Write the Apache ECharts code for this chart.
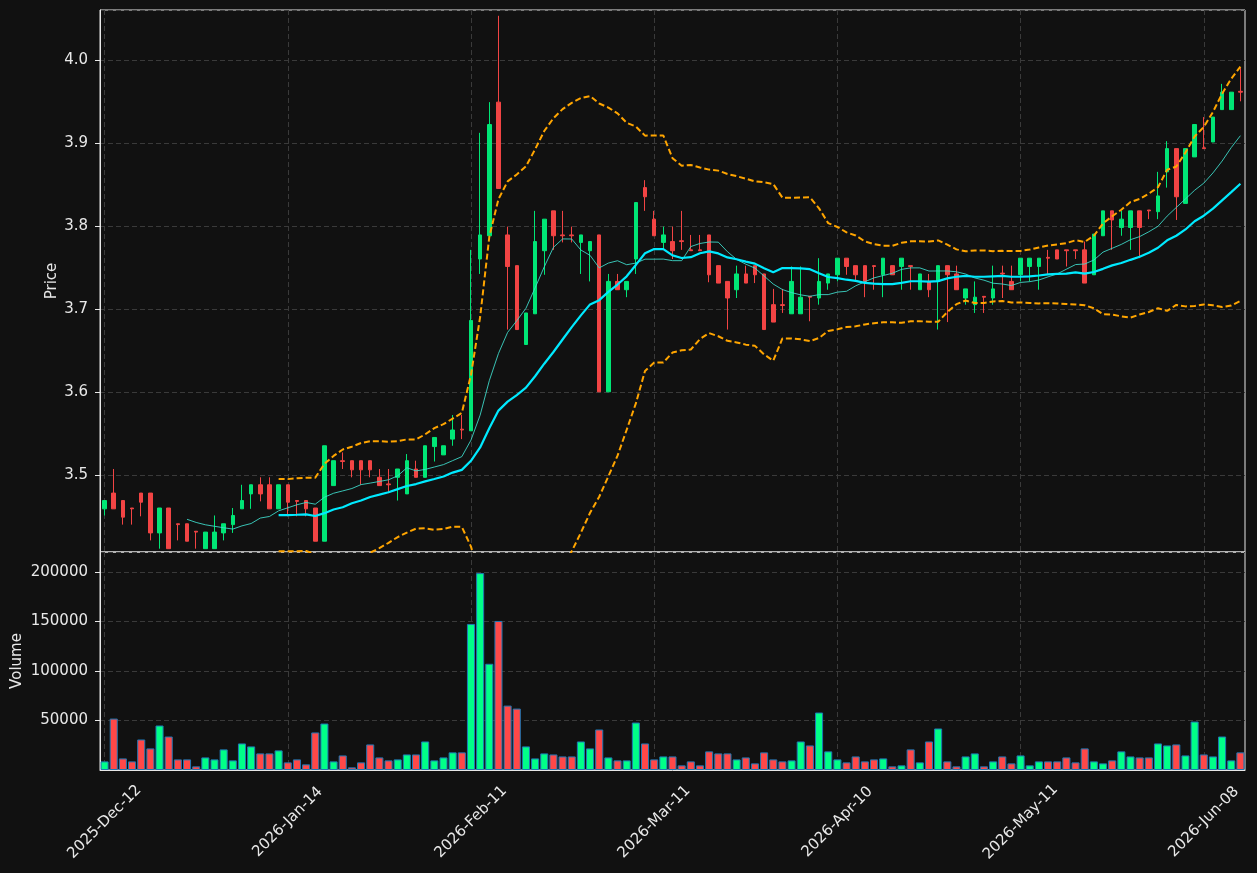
<!DOCTYPE html>
<html>
<head>
<meta charset="utf-8">
<title>Price / Volume</title>
<script src="https://cdn.jsdelivr.net/npm/echarts@6/dist/echarts.min.js"></script>
<style>
html, body { margin: 0; padding: 0; background: #111111; }
#main { width: 1257px; height: 873px; }
</style>
</head>
<body>
<div id="main"></div>
<script>
// daily OHLC
var opens = [
    3.459, 3.478, 3.469, 3.460, 3.478, 3.478, 3.430, 3.460, 3.441, 3.441,
    3.432, 3.411, 3.411, 3.430, 3.440, 3.459, 3.477, 3.488, 3.488, 3.459,
    3.488, 3.469, 3.469, 3.460, 3.420, 3.487, 3.517, 3.517, 3.517, 3.517,
    3.497, 3.489, 3.497, 3.477, 3.507, 3.497, 3.534, 3.524, 3.543, 3.555,
    3.553, 3.760, 3.788, 3.949, 3.789, 3.752, 3.657, 3.694, 3.770, 3.818,
    3.789, 3.789, 3.780, 3.770, 3.789, 3.600, 3.733, 3.723, 3.760, 3.846,
    3.808, 3.780, 3.781, 3.782, 3.771, 3.771, 3.789, 3.752, 3.733, 3.723,
    3.742, 3.752, 3.742, 3.705, 3.705, 3.694, 3.694, 3.715, 3.713, 3.731,
    3.741, 3.761, 3.752, 3.752, 3.752, 3.741, 3.752, 3.751, 3.752, 3.723,
    3.733, 3.733, 3.752, 3.742, 3.713, 3.705, 3.715, 3.713, 3.743, 3.733,
    3.741, 3.751, 3.751, 3.762, 3.771, 3.771, 3.771, 3.771, 3.741, 3.788,
    3.818, 3.798, 3.798, 3.818, 3.819, 3.817, 3.865, 3.893, 3.827, 3.883,
    3.894, 3.901, 3.940, 3.940, 3.962
];
var closes = [
    3.469, 3.459, 3.449, 3.459, 3.467, 3.430, 3.460, 3.411, 3.440, 3.420,
    3.431, 3.431, 3.431, 3.441, 3.451, 3.469, 3.488, 3.477, 3.459, 3.488,
    3.467, 3.468, 3.459, 3.420, 3.535, 3.517, 3.516, 3.506, 3.506, 3.506,
    3.487, 3.488, 3.507, 3.517, 3.497, 3.535, 3.545, 3.535, 3.554, 3.554,
    3.686, 3.789, 3.922, 3.845, 3.751, 3.675, 3.695, 3.781, 3.808, 3.788,
    3.788, 3.788, 3.789, 3.781, 3.600, 3.733, 3.723, 3.733, 3.828, 3.835,
    3.788, 3.789, 3.770, 3.781, 3.770, 3.770, 3.741, 3.731, 3.713, 3.742,
    3.731, 3.741, 3.675, 3.684, 3.704, 3.733, 3.714, 3.714, 3.733, 3.742,
    3.761, 3.751, 3.741, 3.733, 3.751, 3.761, 3.741, 3.761, 3.751, 3.742,
    3.723, 3.752, 3.741, 3.723, 3.724, 3.714, 3.714, 3.724, 3.742, 3.723,
    3.761, 3.761, 3.761, 3.761, 3.760, 3.770, 3.770, 3.731, 3.790, 3.818,
    3.807, 3.808, 3.818, 3.798, 3.818, 3.836, 3.893, 3.835, 3.893, 3.922,
    3.893, 3.931, 3.961, 3.961, 3.961
];
var lows = [
    3.451, 3.459, 3.440, 3.440, 3.450, 3.421, 3.411, 3.411, 3.421, 3.420,
    3.411, 3.411, 3.411, 3.421, 3.430, 3.459, 3.459, 3.468, 3.459, 3.459,
    3.450, 3.450, 3.450, 3.420, 3.420, 3.487, 3.507, 3.497, 3.488, 3.497,
    3.487, 3.478, 3.469, 3.477, 3.497, 3.497, 3.516, 3.524, 3.535, 3.543,
    3.553, 3.742, 3.788, 3.845, 3.675, 3.675, 3.657, 3.694, 3.741, 3.771,
    3.780, 3.780, 3.742, 3.733, 3.600, 3.600, 3.723, 3.714, 3.742, 3.818,
    3.788, 3.772, 3.760, 3.771, 3.770, 3.770, 3.732, 3.731, 3.675, 3.713,
    3.731, 3.731, 3.675, 3.684, 3.695, 3.694, 3.694, 3.685, 3.705, 3.723,
    3.733, 3.741, 3.733, 3.714, 3.723, 3.714, 3.741, 3.723, 3.723, 3.723,
    3.714, 3.675, 3.684, 3.723, 3.705, 3.695, 3.695, 3.705, 3.713, 3.723,
    3.733, 3.733, 3.723, 3.741, 3.760, 3.751, 3.760, 3.731, 3.741, 3.788,
    3.771, 3.788, 3.771, 3.761, 3.808, 3.808, 3.846, 3.807, 3.827, 3.883,
    3.893, 3.901, 3.940, 3.940, 3.950
];
var highs = [
    3.469, 3.507, 3.469, 3.460, 3.478, 3.478, 3.460, 3.460, 3.441, 3.441,
    3.432, 3.431, 3.451, 3.441, 3.460, 3.488, 3.488, 3.497, 3.497, 3.488,
    3.488, 3.469, 3.469, 3.460, 3.535, 3.517, 3.527, 3.517, 3.517, 3.517,
    3.507, 3.507, 3.507, 3.525, 3.517, 3.535, 3.545, 3.535, 3.572, 3.572,
    3.771, 3.912, 3.949, 4.053, 3.799, 3.752, 3.695, 3.818, 3.808, 3.818,
    3.818, 3.799, 3.789, 3.781, 3.789, 3.742, 3.742, 3.733, 3.828, 3.855,
    3.818, 3.799, 3.799, 3.818, 3.789, 3.789, 3.789, 3.752, 3.733, 3.752,
    3.752, 3.752, 3.742, 3.724, 3.724, 3.751, 3.751, 3.715, 3.761, 3.742,
    3.761, 3.761, 3.752, 3.752, 3.752, 3.761, 3.752, 3.761, 3.752, 3.742,
    3.742, 3.752, 3.752, 3.752, 3.724, 3.733, 3.715, 3.752, 3.752, 3.752,
    3.761, 3.761, 3.761, 3.771, 3.771, 3.771, 3.771, 3.781, 3.790, 3.818,
    3.818, 3.818, 3.818, 3.818, 3.819, 3.865, 3.902, 3.893, 3.893, 3.922,
    3.931, 3.931, 3.971, 3.961, 3.990
];
var volumes = [
    8700, 51900, 11700, 8700, 30800, 21800, 44900, 33800, 10700, 10700,
    3700, 12700, 10700, 20800, 9700, 26800, 23800, 16750, 16750, 19800,
    7700, 10700, 5700, 37900, 46900, 8700, 14700, 2700, 7700, 25800,
    12700, 9700, 10700, 15700, 15700, 28800, 9700, 12700, 17800, 17800,
    147400, 198700, 107200, 150400, 65000, 62000, 23800, 11700, 16750, 15700,
    13700, 13700, 28800, 21800, 40900, 12700, 9700, 9700, 47900, 26800,
    10700, 13700, 13700, 4700, 8700, 4700, 18800, 16750, 16750, 10700,
    12700, 6700, 17800, 10700, 8700, 9700, 28800, 24800, 58000, 18800,
    10700, 7700, 13700, 8700, 10700, 11700, 3700, 4700, 20800, 7700,
    28800, 41900, 8700, 3700, 13700, 16750, 3700, 8700, 13700, 6700,
    14700, 4700, 8700, 8700, 8700, 12700, 7700, 21800, 8700, 6700,
    9700, 18800, 13700, 12700, 12700, 26800, 24800, 25800, 14700, 48900,
    15700, 13700, 33800, 9700, 17800
];

// trading calendar: weekdays from the first session, minus exchange holidays
var firstSession = [2025, 12, 12];
var holidays = ['2025-12-25', '2025-12-26', '2026-01-01', '2026-04-03', '2026-04-06', '2026-05-04'];
var monthNames = ['Jan', 'Feb', 'Mar', 'Apr', 'May', 'Jun', 'Jul', 'Aug', 'Sep', 'Oct', 'Nov', 'Dec'];
var labelEvery = 20;

var pad = function (n) {
    return n < 10 ? '0' + n : '' + n;
};

var makeDates = function (count) {
    var res = [];
    var d = new Date(Date.UTC(firstSession[0], firstSession[1] - 1, firstSession[2]));
    while (res.length < count) {
        var iso = d.getUTCFullYear() + '-' + pad(d.getUTCMonth() + 1) + '-' + pad(d.getUTCDate());
        var wd = d.getUTCDay();
        if (wd !== 0 && wd !== 6 && holidays.indexOf(iso) < 0) {
            res.push(d.getUTCFullYear() + '-' + monthNames[d.getUTCMonth()] + '-' + pad(d.getUTCDate()));
        }
        d.setUTCDate(d.getUTCDate() + 1);
    }
    return res;
};

var movingAverage = function (values, n) {
    var res = [];
    for (var i = 0; i < values.length; i++) {
        if (i < n - 1) { res.push('-'); continue; }
        var s = 0;
        for (var j = i - n + 1; j <= i; j++) s += values[j];
        res.push(s / n);
    }
    return res;
};

// bollinger bands, sample std
var bollinger = function (values, n, k) {
    var mid = movingAverage(values, n);
    var upper = [], lower = [];
    for (var i = 0; i < values.length; i++) {
        if (i < n - 1) { upper.push('-'); lower.push('-'); continue; }
        var ss = 0;
        for (var j = i - n + 1; j <= i; j++) ss += Math.pow(values[j] - mid[i], 2);
        var sd = Math.sqrt(ss / (n - 1));
        upper.push(mid[i] + k * sd);
        lower.push(mid[i] - k * sd);
    }
    return { upper: upper, lower: lower };
};

var dates = makeDates(closes.length);
var ma10 = movingAverage(closes, 10);
var ma20 = movingAverage(closes, 20);
var bands = bollinger(closes, 20, 2);

var upColor = '#00e676';
var downColor = '#f24444';
var volUp = '#00ff88';
var volDown = '#ff4848';
var textColor = '#e8e8e8';
var gridLine = { color: '#3a3a3a', type: [5, 3], width: 1 };

var candles = [];
var volBars = [];
for (var i = 0; i < closes.length; i++) {
    candles.push([opens[i], closes[i], lows[i], highs[i]]);
    volBars.push({
        value: volumes[i],
        itemStyle: { color: closes[i] >= opens[i] ? volUp : volDown }
    });
}

var chart = echarts.init(document.getElementById('main'));

var option = {
    backgroundColor: '#111111',
    animation: false,
    textStyle: { fontFamily: 'DejaVu Sans' },
    grid: [
        { left: 100, right: 12, top: 10, height: 542, show: true, borderColor: textColor, borderWidth: 1 },
        { left: 100, right: 12, top: 552, height: 218, show: true, borderColor: textColor, borderWidth: 1 }
    ],
    xAxis: [
        {
            type: 'category',
            gridIndex: 0,
            data: dates,
            axisLine: { show: false },
            axisTick: { show: false },
            axisLabel: { show: false },
            splitLine: { show: true, interval: labelEvery - 1, alignWithLabel: true, lineStyle: gridLine }
        },
        {
            type: 'category',
            gridIndex: 1,
            data: dates,
            axisLine: { lineStyle: { color: textColor } },
            axisTick: { interval: labelEvery - 1, alignWithLabel: true, length: 5, lineStyle: { color: textColor } },
            axisLabel: {
                interval: labelEvery - 1,
                rotate: 45,
                align: 'center',
                verticalAlign: 'middle',
                margin: 52,
                color: textColor,
                fontSize: 15
            },
            splitLine: { show: true, interval: labelEvery - 1, alignWithLabel: true, lineStyle: gridLine }
        }
    ],
    yAxis: [
        {
            type: 'value',
            gridIndex: 0,
            min: 3.407,
            max: 4.06,
            name: 'Price',
            nameLocation: 'middle',
            nameGap: 40,
            nameMoveOverlap: false,
            nameTextStyle: { color: textColor, fontSize: 15 },
            axisLine: { show: true, lineStyle: { color: textColor } },
            axisTick: { show: true, length: 5, lineStyle: { color: textColor } },
            axisLabel: {
                showMinLabel: false,
                showMaxLabel: false,
                margin: 12,
                color: textColor,
                fontSize: 15,
                formatter: function (v) { return v.toFixed(1); }
            },
            splitLine: { show: true, lineStyle: gridLine }
        },
        {
            type: 'value',
            gridIndex: 1,
            min: 0,
            max: 220000,
            name: 'Volume',
            nameLocation: 'middle',
            nameGap: 75,
            nameMoveOverlap: false,
            nameTextStyle: { color: textColor, fontSize: 15 },
            axisLine: { show: true, lineStyle: { color: textColor } },
            axisTick: { show: true, length: 5, lineStyle: { color: textColor } },
            axisLabel: {
                showMinLabel: false,
                showMaxLabel: false,
                margin: 12,
                color: textColor,
                fontSize: 15,
                formatter: function (v) { return String(v); }
            },
            splitLine: { show: true, lineStyle: gridLine }
        }
    ],
    series: [
        {
            name: 'OHLC',
            type: 'candlestick',
            xAxisIndex: 0,
            yAxisIndex: 0,
            data: candles,
            barWidth: 4,
            itemStyle: {
                color: upColor,
                color0: downColor,
                borderColor: upColor,
                borderColor0: downColor,
                borderWidth: 1
            }
        },
        {
            name: 'MA10',
            type: 'line',
            xAxisIndex: 0,
            yAxisIndex: 0,
            data: ma10,
            symbol: 'none',
            lineStyle: { color: '#40e0d0', width: 1, opacity: 0.85 }
        },
        {
            name: 'MA20',
            type: 'line',
            xAxisIndex: 0,
            yAxisIndex: 0,
            data: ma20,
            symbol: 'none',
            lineStyle: { color: '#00eaff', width: 2.2 }
        },
        {
            name: 'BB Upper',
            type: 'line',
            xAxisIndex: 0,
            yAxisIndex: 0,
            data: bands.upper,
            symbol: 'none',
            lineStyle: { color: '#ffa500', width: 2, type: [6, 3] }
        },
        {
            name: 'BB Lower',
            type: 'line',
            xAxisIndex: 0,
            yAxisIndex: 0,
            data: bands.lower,
            symbol: 'none',
            lineStyle: { color: '#ffa500', width: 2, type: [6, 3] }
        },
        {
            name: 'Volume',
            type: 'bar',
            xAxisIndex: 1,
            yAxisIndex: 1,
            data: volBars,
            barWidth: '88%',
            itemStyle: { borderColor: '#1f77b4', borderWidth: 1 }
        }
    ]
};

chart.setOption(option);
</script>
</body>
</html>
